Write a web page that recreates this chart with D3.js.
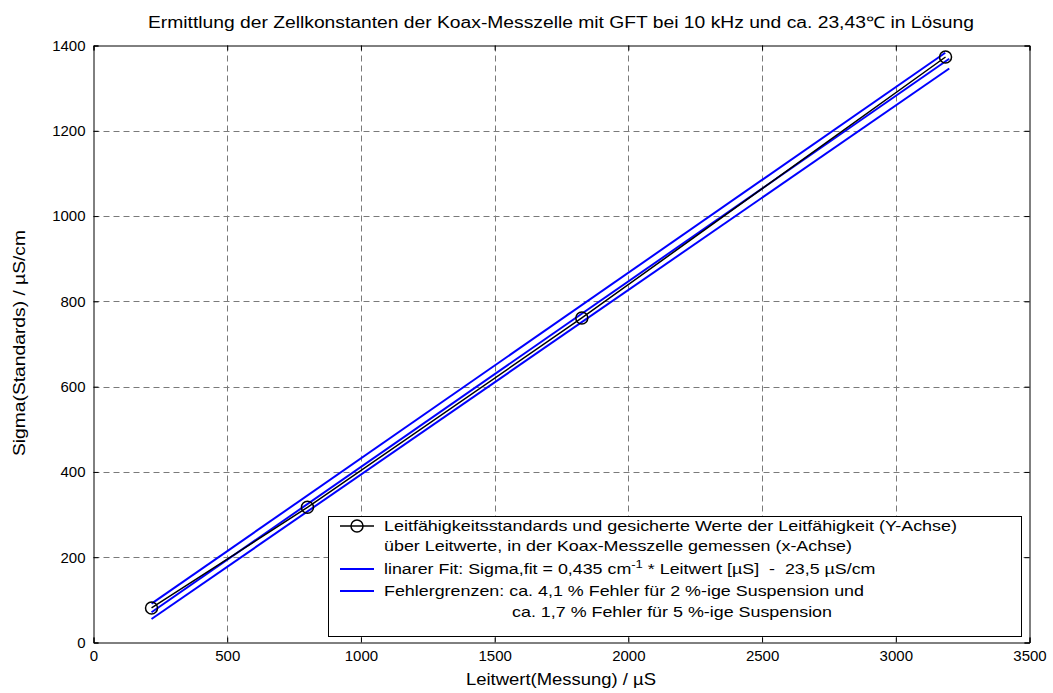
<!DOCTYPE html>
<html>
<head>
<meta charset="utf-8">
<script src="https://cdn.jsdelivr.net/npm/d3@7"></script>
<style>
  body { margin: 0; background: #fff; }
  text { font-family: "Liberation Sans", Arial, sans-serif; fill: #000; }
</style>
</head>
<body>
<span></span>
<script>
window.onload = function zellkonstante(){
    var width = 1053;
    var height = 693;
    var left = 93.5, right = 1029.5, top = 45.5, bottom = 642.5;

    // Messpunkte: Leitwert (x) gegen Sigma der Standards (y)
    var leitwert = [217, 800, 1826, 3186];
    var sigma = [81, 317, 761, 1373];

    // linearer Fit und Fehlergrenzen (Endpunkte)
    var fitX = [217, 3200];
    var fitY = [71, 1369];
    var upperX = [217, 3185];
    var upperY = [91, 1383];
    var lowerX = [217, 3200];
    var lowerY = [55, 1346];

    var xTicks = [0, 500, 1000, 1500, 2000, 2500, 3000, 3500];
    var yTicks = [0, 200, 400, 600, 800, 1000, 1200, 1400];

    var title = "Ermittlung der Zellkonstanten der Koax-Messzelle mit GFT bei 10 kHz und ca. 23,43\u2103 in Lösung";
    var xLabel = "Leitwert(Messung) / µS";
    var yLabel = "Sigma(Standards) / µS/cm";

    var svg = d3.select("span")
        .append("svg")
        .attr("width", width)
        .attr("height", height);

    var x = d3.scaleLinear().domain([0, 3500]).range([left, right]);
    var y = d3.scaleLinear().domain([0, 1400]).range([bottom, top]);

    //grid
    var grid = svg.append("g")
        .attr("stroke", "#7a7a7a")
        .attr("stroke-width", 1)
        .attr("stroke-dasharray", "6,4");
    grid.selectAll("line.gx")
        .data(xTicks.slice(1, -1))
        .enter()
        .append("line")
        .attr("x1", function(d) { return Math.round(x(d)) + 0.5; })
        .attr("x2", function(d) { return Math.round(x(d)) + 0.5; })
        .attr("y1", top)
        .attr("y2", bottom);
    grid.selectAll("line.gy")
        .data(yTicks.slice(1, -1))
        .enter()
        .append("line")
        .attr("y1", function(d) { return Math.round(y(d)) + 0.5; })
        .attr("y2", function(d) { return Math.round(y(d)) + 0.5; })
        .attr("x1", left)
        .attr("x2", right);

    //axes, ticks pointing inwards
    var fmt = d3.format("d");
    svg.append("g")
        .attr("transform", "translate(0," + bottom + ")")
        .call(d3.axisBottom(x).tickValues(xTicks).tickSize(-5).tickPadding(8).tickFormat(fmt))
        .call(styleAxis);
    svg.append("g")
        .attr("transform", "translate(0," + top + ")")
        .call(d3.axisTop(x).tickValues(xTicks).tickSize(-5).tickFormat(""))
        .call(styleAxis);
    svg.append("g")
        .attr("transform", "translate(" + left + ",0)")
        .call(d3.axisLeft(y).tickValues(yTicks).tickSize(-5).tickPadding(8).tickFormat(fmt))
        .call(styleAxis);
    svg.append("g")
        .attr("transform", "translate(" + right + ",0)")
        .call(d3.axisRight(y).tickValues(yTicks).tickSize(-5).tickFormat(""))
        .call(styleAxis);

    function styleAxis(g) {
        g.select(".domain").attr("stroke", "#000").attr("stroke-width", 1);
        g.selectAll(".tick line").attr("stroke", "#000");
        g.selectAll(".tick text")
            .attr("font-size", 15)
            .attr("font-family", "Liberation Sans, Arial, sans-serif");
    }

    var line = d3.line()
        .x(function(d) { return x(d[0]); })
        .y(function(d) { return y(d[1]); });

    //blue lines: fit and error limits
    var blue = [d3.zip(upperX, upperY), d3.zip(fitX, fitY), d3.zip(lowerX, lowerY)];
    svg.append("g")
        .selectAll("path")
        .data(blue)
        .enter()
        .append("path")
        .attr("d", line)
        .attr("fill", "none")
        .attr("stroke", "#0000ff")
        .attr("stroke-width", 2);

    //measured points
    var pts = d3.zip(leitwert, sigma);
    svg.append("path")
        .attr("d", line(pts))
        .attr("fill", "none")
        .attr("stroke", "#000")
        .attr("stroke-width", 1.5);
    svg.append("g")
        .selectAll("circle")
        .data(pts)
        .enter()
        .append("circle")
        .attr("cx", function(d) { return x(d[0]); })
        .attr("cy", function(d) { return y(d[1]); })
        .attr("r", 6)
        .attr("fill", "none")
        .attr("stroke", "#000")
        .attr("stroke-width", 1.5);

    //title and labels
    svg.append("text")
        .attr("x", 561)
        .attr("y", 28)
        .attr("text-anchor", "middle")
        .attr("font-size", 16)
        .attr("textLength", 826)
        .attr("lengthAdjust", "spacingAndGlyphs")
        .text(title);
    svg.append("text")
        .attr("x", 561)
        .attr("y", 685)
        .attr("text-anchor", "middle")
        .attr("font-size", 17)
        .attr("textLength", 190)
        .attr("lengthAdjust", "spacingAndGlyphs")
        .text(xLabel);
    svg.append("text")
        .attr("transform", "translate(25,343) rotate(-90)")
        .attr("text-anchor", "middle")
        .attr("font-size", 17)
        .attr("textLength", 226)
        .attr("lengthAdjust", "spacingAndGlyphs")
        .text(yLabel);

    //legend
    var lg = svg.append("g");
    lg.append("rect")
        .attr("x", 328.5)
        .attr("y", 516.5)
        .attr("width", 693)
        .attr("height", 120)
        .attr("fill", "#fff")
        .attr("stroke", "#000")
        .attr("stroke-width", 1);
    lg.append("line")
        .attr("x1", 340).attr("x2", 374)
        .attr("y1", 526).attr("y2", 526)
        .attr("stroke", "#000").attr("stroke-width", 1.5);
    lg.append("circle")
        .attr("cx", 357).attr("cy", 526).attr("r", 6)
        .attr("fill", "none").attr("stroke", "#000").attr("stroke-width", 1.5);
    [569, 591].forEach(function(yy) {
        lg.append("line")
            .attr("x1", 340).attr("x2", 374)
            .attr("y1", yy).attr("y2", yy)
            .attr("stroke", "#0000ff").attr("stroke-width", 2);
    });

    var entries = [
        {x: 384, y: 531, w: 573, t: "Leitfähigkeitsstandards und gesicherte Werte der Leitfähigkeit (Y-Achse)"},
        {x: 384, y: 551, w: 468, t: "über Leitwerte, in der Koax-Messzelle gemessen (x-Achse)"},
        {x: 384, y: 596, w: 480, t: "Fehlergrenzen: ca. 4,1 % Fehler für 2 %-ige Suspension und"},
        {x: 512, y: 617, w: 320, t: "ca. 1,7 % Fehler für 5 %-ige Suspension"}
    ];
    lg.selectAll("text.e")
        .data(entries)
        .enter()
        .append("text")
        .attr("x", function(d) { return d.x; })
        .attr("y", function(d) { return d.y; })
        .attr("font-size", 15)
        .attr("textLength", function(d) { return d.w; })
        .attr("lengthAdjust", "spacingAndGlyphs")
        .text(function(d) { return d.t; });

    // fit entry with superscript, stretched to its width
    var fitG = lg.append("g").attr("transform", "translate(384,574)");
    var fitText = fitG.append("text")
        .attr("x", 0)
        .attr("y", 0)
        .attr("font-size", 15)
        .style("white-space", "pre");
    fitText.append("tspan").text("linarer Fit: Sigma,fit = 0,435 cm");
    fitText.append("tspan").attr("dy", -6).attr("font-size", 11).text("-1");
    fitText.append("tspan").attr("dy", 6).text(" * Leitwert [µS]  -  23,5 µS/cm");
    var w = fitText.node().getBBox().width;
    fitText.attr("transform", "scale(" + (492 / w) + ",1)");
};
</script>
</body>
</html>
